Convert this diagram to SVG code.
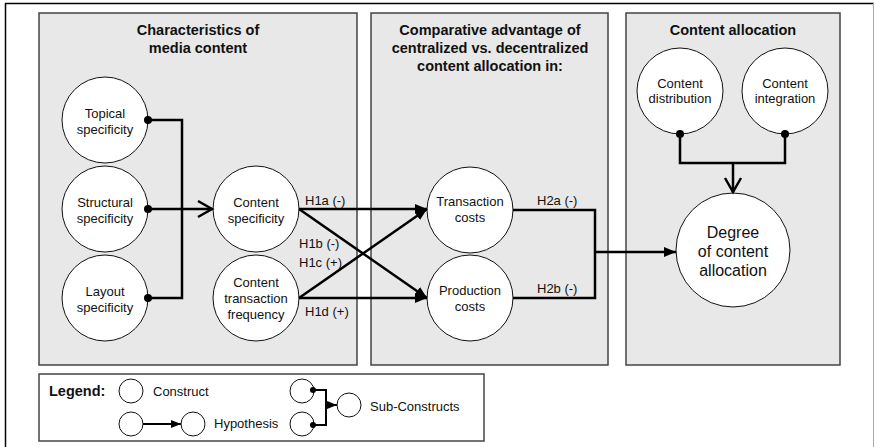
<svg xmlns="http://www.w3.org/2000/svg" width="875" height="447" viewBox="0 0 875 447">
  <defs>
    <style>
      .panel { fill: #e8e8e8; stroke: #444; stroke-width: 1.5; }
      .legend-box { fill: #fff; stroke: #444; stroke-width: 1.5; }
      .node { fill: #fff; stroke: #111; stroke-width: 1; }
      .title { font-family: "Liberation Sans", Arial, sans-serif; font-size: 14.5px; font-weight: bold; text-anchor: middle; fill: #111; }
      .lbl { font-family: "Liberation Sans", Arial, sans-serif; font-size: 13px; text-anchor: middle; fill: #111; }
      .big { font-family: "Liberation Sans", Arial, sans-serif; font-size: 16px; text-anchor: middle; fill: #111; }
      .hyp { font-family: "Liberation Sans", Arial, sans-serif; font-size: 13px; fill: #111; }
      .wire { fill: none; stroke: #000; stroke-width: 2.5; }
      .thin { fill: none; stroke: #000; stroke-width: 2; }
      .chev { fill: none; stroke: #000; stroke-width: 2.5; stroke-linejoin: miter; }
      .dot { fill: #000; }
    </style>
    <marker id="tri" viewBox="0 0 12 10" refX="12" refY="5" markerWidth="12" markerHeight="10" markerUnits="userSpaceOnUse" orient="auto">
      <path d="M0,0 L12,5 L0,10 Z" fill="#000"/>
    </marker>
    <marker id="triS" viewBox="0 0 10 8" refX="10" refY="4" markerWidth="10" markerHeight="8" markerUnits="userSpaceOnUse" orient="auto">
      <path d="M0,0 L10,4 L0,8 Z" fill="#000"/>
    </marker>
  </defs>

  <!-- frame -->
  <rect x="0" y="0" width="875" height="447" fill="#fff"/>
  <line x1="5" y1="3.5" x2="874" y2="3.5" stroke="#000" stroke-width="1.5"/>
  <line x1="5.5" y1="3" x2="5.5" y2="447" stroke="#000" stroke-width="1.5"/>
  <line x1="873.5" y1="3" x2="873.5" y2="447" stroke="#aaa" stroke-width="1"/>

  <!-- panels -->
  <g id="panel-characteristics">
    <rect class="panel" x="39" y="13" width="318" height="352"/>
    <text class="title" x="198" y="35">Characteristics of</text>
    <text class="title" x="198" y="53">media content</text>
  </g>
  <g id="panel-advantage">
    <rect class="panel" x="371" y="13" width="237" height="352"/>
    <text class="title" x="490" y="35">Comparative advantage of</text>
    <text class="title" x="490" y="53">centralized vs. decentralized</text>
    <text class="title" x="490" y="71">content allocation in:</text>
  </g>
  <g id="panel-allocation">
    <rect class="panel" x="626" y="13" width="214" height="352"/>
    <text class="title" x="733" y="35">Content allocation</text>
  </g>

  <!-- nodes -->
  <g id="topical-specificity">
    <circle class="node" cx="105" cy="120" r="43"/>
    <text class="lbl" x="105" y="118">Topical</text>
    <text class="lbl" x="105" y="134">specificity</text>
  </g>
  <g id="structural-specificity">
    <circle class="node" cx="105" cy="209" r="43"/>
    <text class="lbl" x="105" y="207">Structural</text>
    <text class="lbl" x="105" y="223">specificity</text>
  </g>
  <g id="layout-specificity">
    <circle class="node" cx="105" cy="298" r="43"/>
    <text class="lbl" x="105" y="296">Layout</text>
    <text class="lbl" x="105" y="312">specificity</text>
  </g>
  <g id="content-specificity">
    <circle class="node" cx="256" cy="209" r="43"/>
    <text class="lbl" x="256" y="207">Content</text>
    <text class="lbl" x="256" y="223">specificity</text>
  </g>
  <g id="content-transaction-frequency">
    <circle class="node" cx="256" cy="298" r="43"/>
    <text class="lbl" x="256" y="287">Content</text>
    <text class="lbl" x="256" y="303">transaction</text>
    <text class="lbl" x="256" y="319">frequency</text>
  </g>
  <g id="transaction-costs">
    <circle class="node" cx="470" cy="210" r="43"/>
    <text class="lbl" x="470" y="206">Transaction</text>
    <text class="lbl" x="470" y="222">costs</text>
  </g>
  <g id="production-costs">
    <circle class="node" cx="470" cy="298" r="43"/>
    <text class="lbl" x="470" y="295">Production</text>
    <text class="lbl" x="470" y="311">costs</text>
  </g>
  <g id="content-distribution">
    <circle class="node" cx="680" cy="91" r="43"/>
    <text class="lbl" x="680" y="88">Content</text>
    <text class="lbl" x="680" y="103">distribution</text>
  </g>
  <g id="content-integration">
    <circle class="node" cx="785" cy="91" r="43"/>
    <text class="lbl" x="785" y="88">Content</text>
    <text class="lbl" x="785" y="103">integration</text>
  </g>
  <g id="degree-of-content-allocation">
    <circle class="node" cx="733" cy="250" r="57"/>
    <text class="big" x="733" y="238">Degree</text>
    <text class="big" x="733" y="257">of content</text>
    <text class="big" x="733" y="276">allocation</text>
  </g>

  <!-- connectors -->
  <g id="connectors">
    <!-- sub-constructs to content specificity -->
    <path class="wire" d="M148,120 H182 V298 H148"/>
    <line class="wire" x1="148" y1="209" x2="212" y2="209"/>
    <path class="chev" d="M198,201 L212,209 L198,217"/>
    <circle class="dot" cx="148" cy="120" r="4"/>
    <circle class="dot" cx="148" cy="209" r="4"/>
    <circle class="dot" cx="148" cy="298" r="4"/>

    <!-- hypotheses H1 -->
    <line class="wire" x1="299" y1="209" x2="427" y2="209" marker-end="url(#tri)"/>
    <line class="wire" x1="299" y1="209" x2="427" y2="298" marker-end="url(#tri)"/>
    <line class="wire" x1="299" y1="298" x2="427" y2="209" marker-end="url(#tri)"/>
    <line class="wire" x1="299" y1="298" x2="427" y2="298" marker-end="url(#tri)"/>

    <!-- hypotheses H2 -->
    <path class="wire" d="M513,210 H595 V298 H513"/>
    <line class="wire" x1="595" y1="252" x2="676" y2="252" marker-end="url(#tri)"/>

    <!-- sub-constructs to degree of content allocation -->
    <path class="wire" d="M680,134 V163 H785 V134"/>
    <line class="wire" x1="733" y1="163" x2="733" y2="192"/>
    <path class="chev" d="M725,178 L733,192 L741,178"/>
    <circle class="dot" cx="680" cy="134" r="4"/>
    <circle class="dot" cx="785" cy="134" r="4"/>

    <text class="hyp" x="305" y="205">H1a (-)</text>
    <text class="hyp" x="299" y="248">H1b (-)</text>
    <text class="hyp" x="299" y="267">H1c (+)</text>
    <text class="hyp" x="305" y="316">H1d (+)</text>
    <text class="hyp" x="537" y="205">H2a (-)</text>
    <text class="hyp" x="537" y="293">H2b (-)</text>
  </g>

  <!-- legend -->
  <g id="legend">
    <rect class="legend-box" x="39" y="374" width="445" height="67"/>
    <text x="49" y="396" font-family="Liberation Sans, Arial, sans-serif" font-size="14.5" font-weight="bold" fill="#111">Legend:</text>
    <circle class="node" cx="131" cy="391" r="12"/>
    <text class="hyp" x="153" y="396">Construct</text>
    <circle class="node" cx="131" cy="424" r="12"/>
    <circle class="node" cx="193" cy="424" r="12"/>
    <line class="thin" x1="143" y1="424" x2="181" y2="424" marker-end="url(#triS)"/>
    <text class="hyp" x="214" y="428">Hypothesis</text>
    <circle class="node" cx="302" cy="391" r="12"/>
    <circle class="node" cx="302" cy="424" r="12"/>
    <circle class="node" cx="349" cy="405" r="12"/>
    <path class="thin" d="M313,390 H326 V425 H313"/>
    <line class="thin" x1="326" y1="405" x2="337" y2="405" marker-end="url(#triS)"/>
    <circle class="dot" cx="313" cy="390" r="3"/>
    <circle class="dot" cx="313" cy="425" r="3"/>
    <text class="hyp" x="370" y="411">Sub-Constructs</text>
  </g>
</svg>
